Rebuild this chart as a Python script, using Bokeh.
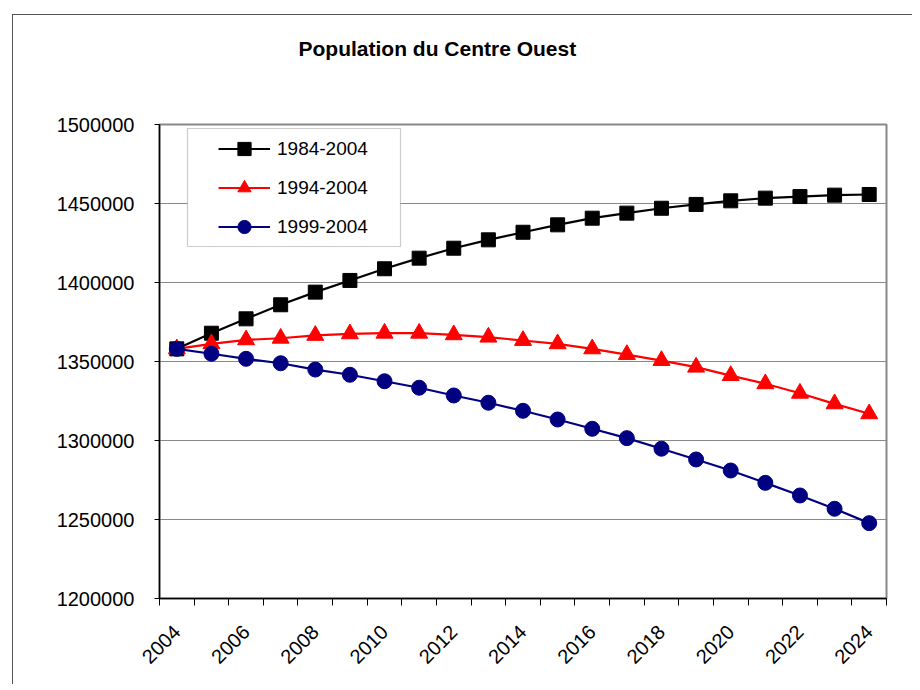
from math import pi
from bokeh.plotting import figure
from bokeh.models import (FixedTicker, BasicTickFormatter, Legend, LegendItem,
                          BoxAnnotation, Title)
from bokeh.embed import file_html
from bokeh.resources import INLINE

years = list(range(2004, 2025))
s_1984_2004 = [1358000, 1367900, 1377000, 1385900, 1393900, 1401300, 1408700,
               1415400, 1421700, 1427000, 1431800, 1436500, 1440700, 1443900,
               1447000, 1449400, 1451700, 1453400, 1454400, 1455300, 1455700]
s_1994_2004 = [1358000, 1361200, 1363700, 1364700, 1366500, 1367500, 1367900,
               1367900, 1366900, 1365400, 1363300, 1361200, 1358000, 1354400,
               1350600, 1346400, 1341100, 1335900, 1329900, 1323200, 1316900]
s_1999_2004 = [1358000, 1354900, 1351700, 1348900, 1344900, 1341600, 1337500,
               1333400, 1328500, 1323900, 1318800, 1313300, 1307400, 1301500,
               1294800, 1288000, 1281000, 1273200, 1265200, 1256800, 1247700]
label_years = list(range(2004, 2025, 2))
y_ticks = [1200000, 1250000, 1300000, 1350000, 1400000, 1450000, 1500000]
title_text = "Population du Centre Ouest"
series_names = ["1984-2004", "1994-2004", "1999-2004"]

FONT = "Liberation Sans"

p = figure(width=900, height=670, output_backend="svg", toolbar_location=None,
           x_range=(years[0] - 0.5, years[-1] + 0.5),
           y_range=(y_ticks[0], y_ticks[-1]),
           min_border_left=146, min_border_right=27,
           min_border_top=109, min_border_bottom=87)
p.styles = {"margin-left": "12px", "margin-top": "14px",
            "border-left": "1px solid #555555",
            "border-top": "1px solid #555555"}

# a trailing empty line lifts the title towards the top of the chart area
p.title = Title(text=title_text + "\n", align="left", offset=139, standoff=20,
                vertical_align="top", text_line_height=2.3,
                text_font=FONT, text_font_size="21px", text_font_style="bold",
                text_color="black")

p.outline_line_color = "#888888"
p.outline_line_width = 2
p.background_fill_color = "white"
p.border_fill_color = "white"

p.xgrid.grid_line_color = None
p.ygrid.grid_line_color = "#888888"
p.ygrid.grid_line_width = 1.2
p.ygrid.ticker = FixedTicker(ticks=y_ticks)

p.yaxis.ticker = FixedTicker(ticks=y_ticks)
p.yaxis.formatter = BasicTickFormatter(use_scientific=False)
p.yaxis.major_label_text_font = FONT
p.yaxis.major_label_text_font_size = "20px"
p.yaxis.major_label_text_color = "black"
p.yaxis.major_label_standoff = 20
p.yaxis.axis_line_color = "black"
p.yaxis.axis_line_width = 1.5
p.yaxis.major_tick_line_color = "black"
p.yaxis.major_tick_out = 5
p.yaxis.major_tick_in = 0
p.yaxis.minor_tick_line_color = None

boundaries = [y - 0.5 for y in years] + [years[-1] + 0.5]
p.xaxis.ticker = FixedTicker(ticks=label_years, minor_ticks=boundaries)
p.xaxis.major_tick_line_color = None
p.xaxis.minor_tick_line_color = "black"
p.xaxis.minor_tick_out = 7
p.xaxis.minor_tick_in = 0
p.xaxis.axis_line_color = "black"
p.xaxis.axis_line_width = 1.5
p.xaxis.major_label_orientation = pi / 4
p.xaxis.major_label_text_font = FONT
p.xaxis.major_label_text_font_size = "20px"
p.xaxis.major_label_text_color = "black"
p.xaxis.major_label_standoff = 23

r1l = p.line(years, s_1984_2004, line_color="black", line_width=2.2)
r1m = p.scatter(years, s_1984_2004, marker="square", size=14,
                fill_color="black", line_color="black")
r2l = p.line(years, s_1994_2004, line_color="#ff0000", line_width=2.2)
r2m = p.scatter(years, s_1994_2004, marker="triangle", size=17,
                fill_color="#ff0000", line_color="#ff0000")
r3l = p.line(years, s_1999_2004, line_color="#000080", line_width=2.2)
r3m = p.scatter(years, s_1999_2004, marker="circle", size=15,
                fill_color="#000080", line_color="#000080")

# legend frame
legbox = BoxAnnotation(left=28, right=241, top=474 - 4, bottom=474 - 122,
                       left_units="screen", right_units="screen",
                       top_units="screen", bottom_units="screen",
                       fill_color="white", fill_alpha=1,
                       line_color="#555555", line_width=1.2, level="overlay")
p.add_layout(legbox)

legend = Legend(items=[LegendItem(label=series_names[0], renderers=[r1l, r1m]),
                       LegendItem(label=series_names[1], renderers=[r2l, r2m]),
                       LegendItem(label=series_names[2], renderers=[r3l, r3m])],
                location=(59, 355), glyph_width=52, glyph_height=33,
                spacing=6, padding=0, margin=0, label_standoff=7,
                label_text_font=FONT, label_text_font_size="19px",
                label_text_color="black",
                border_line_alpha=0, background_fill_alpha=0)
p.add_layout(legend, "center")

open("out.html", "w").write(file_html(p, INLINE))
